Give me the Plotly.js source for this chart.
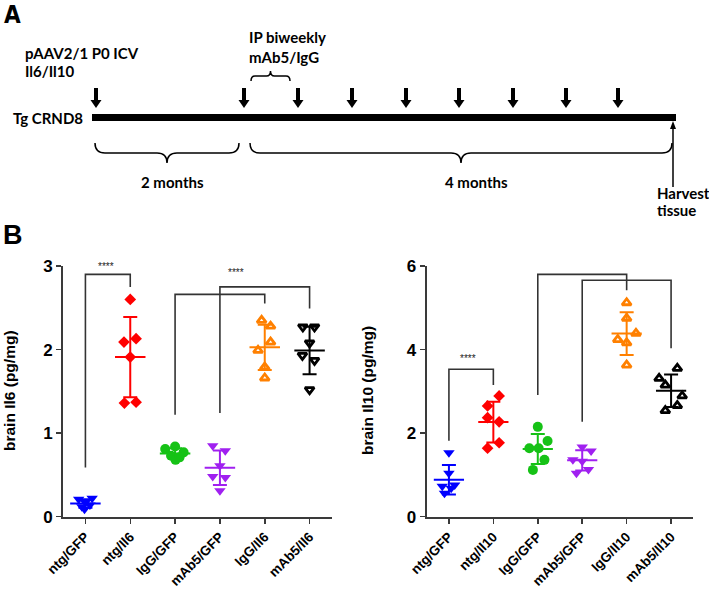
<!DOCTYPE html>
<html>
<head>
<meta charset="utf-8">
<script src="https://cdn.plot.ly/plotly-3.0.1.min.js"></script>
<style>
html, body { margin: 0; padding: 0; background: #fff; }
#fig { width: 709px; height: 591px; }
</style>
</head>
<body>
<div id="fig"></div>
<script>
'use strict';
const W = 709, H = 591;

// ---- panel B data (pg/mg) ----
const il6Groups = ['ntg/GFP', 'ntg/Il6', 'IgG/GFP', 'mAb5/GFP', 'IgG/Il6', 'mAb5/Il6'];
const il10Groups = ['ntg/GFP', 'ntg/Il10', 'IgG/GFP', 'mAb5/GFP', 'IgG/Il10', 'mAb5/Il10'];

const il6Values = [
    [0.21, 0.22, 0.17, 0.14, 0.12, 0.09],
    [2.60, 2.09, 2.13, 1.91, 1.36, 1.37],
    [0.81, 0.84, 0.77, 0.73, 0.68, 0.71],
    [0.85, 0.79, 0.61, 0.48, 0.47, 0.31],
    [2.35, 2.28, 2.09, 1.99, 1.79, 1.66],
    [2.27, 2.27, 2.08, 1.93, 1.87, 1.52],
];
const il6Spread = [
    [-0.15, 0.15, 0.00, 0.10, -0.08, -0.02],
    [0.00, -0.14, 0.13, 0.00, -0.13, 0.13],
    [-0.22, 0.00, 0.19, -0.09, 0.01, 0.10],
    [-0.16, 0.12, 0.00, -0.16, 0.12, 0.00],
    [-0.07, 0.13, 0.13, -0.15, 0.00, 0.00],
    [-0.15, 0.11, 0.00, -0.16, 0.11, 0.00],
];
const il10Values = [
    [1.53, 1.04, 0.73, 0.76, 0.68, 0.56],
    [2.89, 2.65, 2.37, 2.27, 1.77, 1.64],
    [2.15, 1.81, 1.64, 1.64, 1.36, 1.12],
    [1.67, 1.57, 1.36, 1.33, 1.13, 1.04],
    [5.12, 4.75, 4.39, 4.24, 4.16, 3.63],
    [3.55, 3.31, 3.15, 2.89, 2.66, 2.54],
];
const il10Spread = [
    [0.00, 0.00, -0.15, 0.13, 0.05, -0.10],
    [0.13, -0.13, -0.13, 0.13, 0.13, -0.13],
    [0.00, 0.22, -0.19, 0.02, 0.15, -0.11],
    [0.00, 0.20, -0.21, 0.00, 0.14, -0.13],
    [0.00, 0.00, 0.21, -0.20, 0.00, 0.00],
    [0.14, -0.27, -0.13, 0.25, 0.14, -0.13],
];

// significance brackets: [from group, to group, left leg end, top, right leg end]
const il6Brackets = [[0, 1, 0.59, 2.90, 2.75], [2, 4, 1.22, 2.66, 2.55], [3, 5, 1.24, 2.75, 2.49]];
const il6Stars = [[0.46, 2.99], [3.36, 2.92]];
const il10Brackets = [[0, 1, 1.82, 3.53, 3.15], [2, 4, 2.91, 5.80, 5.42], [3, 5, 2.27, 5.66, 4.03]];
const il10Stars = [[0.43, 3.79], [3.25, 6.05]];

const groupColors = ['#0000ff', '#ff0000', '#16c216', '#a020f0', '#ff8000', '#000000'];
const il6Symbols = ['triangle-down', 'diamond', 'circle', 'triangle-down', 'triangle-up-open', 'triangle-down-open'];
const il10Symbols = ['triangle-down', 'diamond', 'circle', 'triangle-down', 'triangle-up-open', 'triangle-up-open'];

// ---- panel A timeline ----
const injectX = [96, 244, 298, 352, 406, 459, 513, 566, 618];

const px = v => v / W;
const py = v => 1 - v / H;

function mean(a) { return a.reduce((s, v) => s + v, 0) / a.length; }
function sd(a) {
    const m = mean(a);
    return Math.sqrt(a.reduce((s, v) => s + (v - m) * (v - m), 0) / (a.length - 1));
}

function panelTraces(values, spread, symbols, brackets, xa, ya) {
    const out = [];
    values.forEach((vals, i) => {
        const c = groupColors[i], open = symbols[i].endsWith('open');
        out.push({
            type: 'scatter', mode: 'markers', xaxis: xa, yaxis: ya,
            x: vals.map((_, k) => i + spread[i][k]), y: vals,
            marker: {
                symbol: symbols[i], color: c,
                size: symbols[i] === 'diamond' ? 9 : (open ? 8 : 10),
                line: { color: c, width: open ? 2.8 : 0 },
            },
            hoverinfo: 'y', showlegend: false,
        });
        out.push({
            type: 'scatter', mode: 'markers', xaxis: xa, yaxis: ya,
            x: [i], y: [mean(vals)],
            marker: { size: 1, color: c },
            error_y: { type: 'data', array: [sd(vals)], visible: true, color: c, thickness: 2, width: 7 },
            error_x: { type: 'constant', value: 0.34, visible: true, color: c, thickness: 2, width: 0 },
            hoverinfo: 'skip', showlegend: false,
        });
    });
    brackets.forEach(b => {
        out.push({
            type: 'scatter', mode: 'lines', xaxis: xa, yaxis: ya,
            x: [b[0], b[0], b[1], b[1]], y: [b[2], b[3], b[3], b[4]],
            line: { color: '#333', width: 1.6 },
            hoverinfo: 'skip', showlegend: false,
        });
    });
    return out;
}

const traces = [].concat(
    panelTraces(il6Values, il6Spread, il6Symbols, il6Brackets, 'x', 'y'),
    panelTraces(il10Values, il10Spread, il10Symbols, il10Brackets, 'x2', 'y2')
);

const arial = 'Arial, Liberation Sans, sans-serif';
function xAxis(dom, labels) {
    return {
        domain: dom, range: [-0.5, 5.5], tickvals: labels.map((_, i) => i), ticktext: labels,
        tickangle: -45, tickfont: { family: arial, size: 13.5, color: '#000', weight: 'bold' },
        showline: true, linecolor: '#3a3a3a', linewidth: 2,
        ticks: 'outside', ticklen: 5, tickwidth: 1.5, tickcolor: '#3a3a3a',
        showgrid: false, zeroline: false, fixedrange: true, automargin: false,
    };
}
function yAxis(dom, top, step, anchor) {
    return {
        domain: dom, range: [0, top], dtick: step, anchor: anchor,
        tickfont: { family: arial, size: 17, color: '#000', weight: 'bold' },
        showline: true, linecolor: '#3a3a3a', linewidth: 2,
        ticks: 'outside', ticklen: 5, tickwidth: 1.5, tickcolor: '#3a3a3a',
        showgrid: false, zeroline: false, fixedrange: true, automargin: false,
    };
}

const yDom = [py(516.7), py(266)];
const annotations = [];
const textA = { family: 'Lato, Calibri, sans-serif', size: 15, color: '#000', weight: 'bold' };
function note(text, x, y, font, extra) {
    annotations.push(Object.assign({
        text, x: px(x), y: py(y), xref: 'paper', yref: 'paper',
        xanchor: 'left', yanchor: 'middle', showarrow: false, font,
    }, extra || {}));
}

note('A', 2, 15, { family: 'Liberation Sans Narrow, DejaVu Sans Condensed, sans-serif', size: 24, color: '#000', weight: 'bold' });
note('B', 1, 235, { family: arial, size: 27, color: '#000', weight: 'bold' });
note('pAAV2/1 P0 ICV', 23, 53, textA);
note('Il6/Il10', 23, 71, textA);
note('IP biweekly', 247, 37, textA);
note('mAb5/IgG', 247, 57, textA);
note('Tg CRND8', 11, 118, textA);
note('2 months', 172, 182, textA, { xanchor: 'center' });
note('4 months', 477, 182, textA, { xanchor: 'center' });
note('Harvest', 655, 193, textA);
note('tissue', 655, 210, textA);

const titleFont = { family: arial, size: 15.5, color: '#000', weight: 'bold' };
note('brain Il6 (pg/mg)', 10, 391, titleFont, { xanchor: 'center', textangle: -90 });
note('brain Il10 (pg/mg)', 368, 391, titleFont, { xanchor: 'center', textangle: -90 });

const starFont = { family: arial, size: 10, color: '#222' };
il6Stars.forEach(s => annotations.push({ text: '****', x: s[0], y: s[1], xref: 'x', yref: 'y', showarrow: false, font: starFont }));
il10Stars.forEach(s => annotations.push({ text: '****', x: s[0], y: s[1], xref: 'x2', yref: 'y2', showarrow: false, font: starFont }));

// timeline drawing
const shapes = [];
const paperShape = o => Object.assign({ xref: 'paper', yref: 'paper' }, o);
shapes.push(paperShape({ type: 'rect', x0: px(92), x1: px(676), y0: py(114), y1: py(121), fillcolor: '#000', line: { width: 0 } }));
injectX.forEach(x => {
    const p = [[x - 2, 88], [x + 2, 88], [x + 2, 100], [x + 5.5, 100], [x, 108], [x - 5.5, 100], [x - 2, 100]];
    shapes.push(paperShape({
        type: 'path', path: 'M' + p.map(q => px(q[0]) + ',' + py(q[1])).join(' L') + ' Z',
        fillcolor: '#000', line: { width: 0 },
    }));
});
// harvest arrow
shapes.push(paperShape({ type: 'line', x0: px(673), x1: px(673), y0: py(127), y1: py(187), line: { color: '#000', width: 1.5 } }));
shapes.push(paperShape({
    type: 'path', path: `M${px(673)},${py(121)} L${px(676)},${py(129)} L${px(670)},${py(129)} Z`,
    fillcolor: '#000', line: { width: 0 },
}));

function brace(xa, xb, yEnd, yMid, yTip, r) {
    const xc = (xa + xb) / 2;
    const P = (x, y) => px(x) + ',' + py(y);
    return `M${P(xa, yEnd)} Q${P(xa, yMid)} ${P(xa + r, yMid)} L${P(xc - r, yMid)} Q${P(xc, yMid)} ${P(xc, yTip)} ` +
        `Q${P(xc, yMid)} ${P(xc + r, yMid)} L${P(xb - r, yMid)} Q${P(xb, yMid)} ${P(xb, yEnd)}`;
}
shapes.push(paperShape({ type: 'path', path: brace(95, 239, 143, 153, 163, 10), line: { color: '#000', width: 1.5 } }));
shapes.push(paperShape({ type: 'path', path: brace(250, 672, 143, 153, 163, 10), line: { color: '#000', width: 1.5 } }));
shapes.push(paperShape({ type: 'path', path: brace(251, 290, 81, 76, 71, 4), line: { color: '#000', width: 1.5 } }));

const layout = {
    width: W, height: H,
    margin: { l: 0, r: 0, t: 0, b: 0 },
    paper_bgcolor: '#fff', plot_bgcolor: 'rgba(0,0,0,0)',
    showlegend: false,
    xaxis: xAxis([px(63), px(332)], il6Groups),
    yaxis: yAxis(yDom, 3, 1, 'x'),
    xaxis2: Object.assign(xAxis([px(426.7), px(693.3)], il10Groups), { anchor: 'y2' }),
    yaxis2: yAxis(yDom, 6, 2, 'x2'),
    annotations, shapes,
};

Plotly.newPlot('fig', traces, layout, { displayModeBar: false, staticPlot: true });
</script>
</body>
</html>
